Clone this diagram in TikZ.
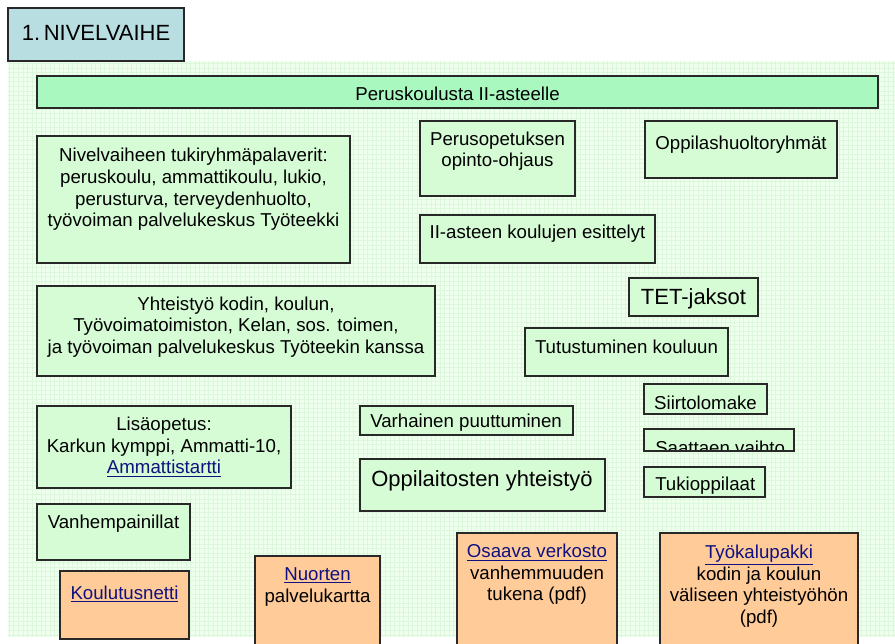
\documentclass[tikz,border=0pt]{standalone}
\usepackage{fontspec}
\setmainfont{Liberation Sans}
\definecolor{bgfill}{RGB}{238,255,238}
\definecolor{gridc}{RGB}{220,247,220}
\definecolor{boxfill}{RGB}{214,252,214}
\definecolor{barfill}{RGB}{168,248,192}
\definecolor{titlefill}{RGB}{184,222,226}
\definecolor{orangefill}{RGB}{255,204,153}
\definecolor{edge}{RGB}{40,40,40}
\definecolor{linkc}{RGB}{16,16,128}
\newcommand{\lnk}[1]{\textcolor{linkc}{\underline{#1}}}
\tikzset{
  bx/.style={draw=edge, line width=1pt, fill=boxfill},
  ob/.style={draw=edge, line width=1pt, fill=orangefill},
  tx/.style={inner sep=0pt, align=center, font=\fontsize{14pt}{16.2pt}\selectfont},
  big/.style={inner sep=0pt, align=center, font=\fontsize{16.5pt}{19pt}\selectfont},
}
\begin{document}
\begin{tikzpicture}[x=0.75pt, y=-0.75pt]
\useasboundingbox (0,0) rectangle (895,643);
\clip (0,0) rectangle (895,643);
\fill[white] (0,0) rectangle (895,643);
% background grid area
\fill[bgfill] (8,61) rectangle (895,637);
\draw[gridc, line width=0.25pt, step=3.4pt] (8,61) grid (895,637);
% title
\draw[draw=edge, line width=1pt, fill=titlefill] (8,8) rectangle (184,61);
\node[big] (title) at (96,33) {1.\,NIVELVAIHE};
% bar
\draw[draw=edge, line width=1pt, fill=barfill] (37,76) rectangle (878,108);
\node[tx] (bar) at (457.5,94) {Peruskoulusta II-asteelle};
% green boxes
\draw[bx] (37,136) rectangle (350,263);
\node[tx] (nivel) at (193.5,189.5) {Nivelvaiheen tukiryhmäpalaverit:\\peruskoulu, ammattikoulu, lukio,\\perusturva, terveydenhuolto,\\työvoiman palvelukeskus Työteekki};
\draw[bx] (420,121) rectangle (575,196);
\node[tx] (perus) at (497.5,151) {Perusopetuksen\\opinto-ohjaus};
\draw[bx] (645,121) rectangle (837,178);
\node[tx] (oppilas) at (741,145) {Oppilashuoltoryhmät};
\draw[bx] (420,215) rectangle (655,263);
\node[tx] (iiaste) at (537.5,234) {II-asteen koulujen esittelyt};
\draw[bx] (37,286) rectangle (435,376);
\node[tx] (yhteis) at (236,327) {Yhteistyö kodin, koulun,\\Työvoimatoimiston, Kelan, sos. toimen,\\ja työvoiman palvelukeskus Työteekin kanssa};
\draw[bx] (629,278) rectangle (758,316);
\node[big] (tet) at (693.5,299) {TET-jaksot};
\draw[bx] (525,328) rectangle (728,376);
\node[tx] (tutus) at (626.5,347) {Tutustuminen kouluun};
\draw[bx] (644,384) rectangle (767,414);
\node[tx] (siirto) at (705.5,403) {Siirtolomake};
\begin{scope}
\clip (644,429) rectangle (794,451);
\fill[boxfill] (644,429) rectangle (794,451);
\node[tx, anchor=west] (saattaen) at (655,448) {Saattaen vaihto};
\end{scope}
\draw[draw=edge, line width=1pt] (644,429) rectangle (794,451);
\draw[bx] (644,467) rectangle (765,497);
\node[tx, anchor=west] (tuki) at (655,486) {Tukioppilaat};
\draw[bx] (360,406) rectangle (573,435);
\node[tx, anchor=west] (varh) at (370,423) {Varhainen puuttuminen};
\draw[bx] (360,459) rectangle (605,511);
\node[big] (oppilait) at (482,481) {Oppilaitosten yhteistyö};
\draw[bx] (37,406) rectangle (291,488);
\node[tx] (lisa) at (164,447) {Lisäopetus:\\Karkun kymppi, Ammatti-10,\\\lnk{Ammattistartti}};
\draw[bx] (37,504) rectangle (190,560);
\node[tx] (vanh) at (113.5,524) {Vanhempainillat};
% orange boxes
\draw[ob] (60,571) rectangle (189,639);
\node[tx] (koul) at (124.5,594) {\lnk{Koulutusnetti}};
\draw[ob] (255,556) rectangle (380,670);
\node[tx] (nuorten) at (317.5,587) {\lnk{Nuorten}\\palvelukartta};
\draw[ob] (457,533) rectangle (617,670);
\node[tx] (osaava) at (537,574.5) {\lnk{Osaava verkosto}\\vanhemmuuden\\tukena (pdf)};
\draw[ob] (660,533) rectangle (858,670);
\node[tx] (tyokalu) at (759,586) {\lnk{Työkalupakki}\\kodin ja koulun\\väliseen yhteistyöhön\\(pdf)};
\end{tikzpicture}
\end{document}
